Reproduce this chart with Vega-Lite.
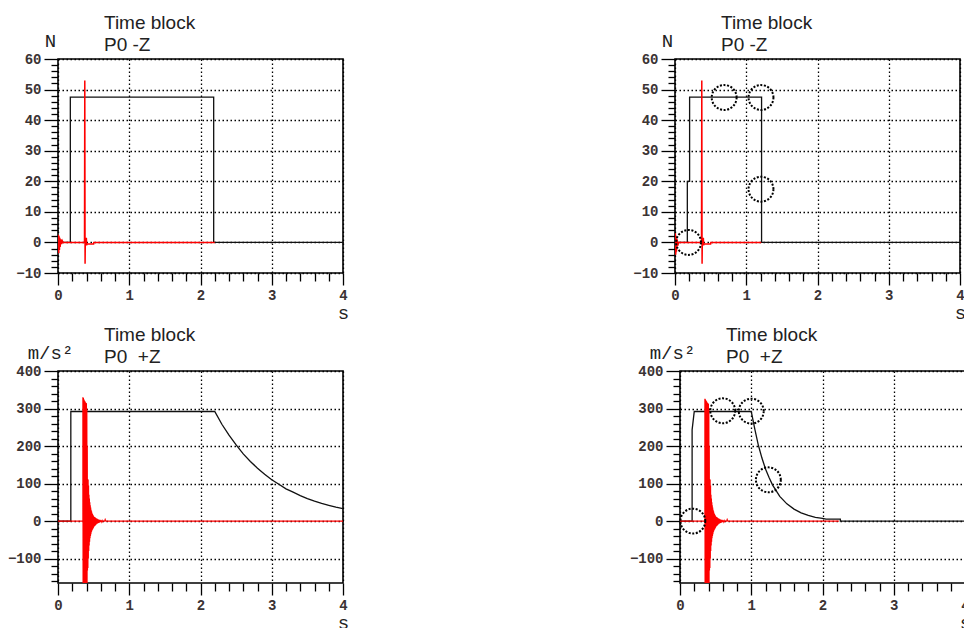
{
  "$schema": "https://vega.github.io/schema/vega-lite/v6.json",
  "background": "white",
  "padding": {"left": 6, "top": 13, "right": 0, "bottom": 0},
  "datasets": {
    "tl_k": [{"t":0,"v":0},{"t":0.173,"v":0},{"t":0.173,"v":47.5},{"t":2.185,"v":47.5},{"t":2.185,"v":0},{"t":4,"v":0}],
    "tl_r": [{"t":0,"v":0},{"t":0.005,"v":2.5},{"t":0.01,"v":-3.5},{"t":0.015,"v":2},{"t":0.02,"v":-2.5},{"t":0.025,"v":1.5},{"t":0.03,"v":-1.5},{"t":0.04,"v":1},{"t":0.05,"v":-0.5},{"t":0.06,"v":0.5},{"t":0.07,"v":0},{"t":0.372,"v":0},{"t":0.376,"v":53},{"t":0.38,"v":-7},{"t":0.384,"v":1.5},{"t":0.388,"v":-1},{"t":0.392,"v":0},{"t":0.398,"v":1.5},{"t":0.402,"v":-1},{"t":0.406,"v":-0.5},{"t":0.5,"v":-0.5},{"t":0.503,"v":0},{"t":2.2,"v":0}],
    "tr_k": [{"t":0,"v":0},{"t":0.173,"v":0},{"t":0.173,"v":20},{"t":0.205,"v":20},{"t":0.205,"v":47.5},{"t":1.215,"v":47.5},{"t":1.215,"v":0},{"t":4,"v":0}],
    "tr_r": [{"t":0,"v":0},{"t":0.005,"v":3},{"t":0.01,"v":-4},{"t":0.015,"v":2},{"t":0.02,"v":-3},{"t":0.03,"v":1},{"t":0.04,"v":-1},{"t":0.05,"v":0},{"t":0.372,"v":0},{"t":0.376,"v":53},{"t":0.38,"v":-7},{"t":0.384,"v":1.5},{"t":0.388,"v":-1},{"t":0.392,"v":0},{"t":0.398,"v":1.5},{"t":0.402,"v":-1},{"t":0.406,"v":-0.5},{"t":0.5,"v":-0.5},{"t":0.503,"v":0},{"t":1.21,"v":0}],
    "tr_c": [{"t":0.19,"v":0},{"t":0.69,"v":47.4},{"t":1.207,"v":47.4},{"t":1.207,"v":17.4}],
    "bl_k": [{"t":0,"v":0},{"t":0.18,"v":0},{"t":0.18,"v":292},{"t":2.2,"v":292},{"t":2.3,"v":258},{"t":2.4,"v":229},{"t":2.5,"v":203},{"t":2.6,"v":179},{"t":2.7,"v":159},{"t":2.8,"v":141},{"t":2.9,"v":125},{"t":3.0,"v":110},{"t":3.1,"v":98},{"t":3.2,"v":86},{"t":3.3,"v":77},{"t":3.4,"v":68},{"t":3.5,"v":60},{"t":3.6,"v":53},{"t":3.7,"v":47},{"t":3.8,"v":42},{"t":3.9,"v":37},{"t":4.0,"v":33}],
    "bl_r": [{"t":0,"v":0},{"t":0.35,"v":0},{"t":0.350,"v":330},{"t":0.353,"v":-200},{"t":0.356,"v":328},{"t":0.359,"v":-200},{"t":0.362,"v":325},{"t":0.365,"v":-200},{"t":0.368,"v":322},{"t":0.371,"v":-200},{"t":0.374,"v":320},{"t":0.377,"v":-200},{"t":0.380,"v":318},{"t":0.383,"v":-200},{"t":0.386,"v":316},{"t":0.389,"v":-200},{"t":0.392,"v":315},{"t":0.395,"v":-200},{"t":0.398,"v":314},{"t":0.401,"v":-200},{"t":0.404,"v":300},{"t":0.407,"v":-190},{"t":0.410,"v":200},{"t":0.413,"v":-132},{"t":0.416,"v":112},{"t":0.419,"v":-125},{"t":0.422,"v":110},{"t":0.425,"v":-100},{"t":0.428,"v":95},{"t":0.431,"v":-80},{"t":0.434,"v":70},{"t":0.437,"v":-65},{"t":0.440,"v":60},{"t":0.443,"v":-55},{"t":0.446,"v":50},{"t":0.449,"v":-46},{"t":0.452,"v":42},{"t":0.455,"v":-40},{"t":0.458,"v":36},{"t":0.461,"v":-35},{"t":0.464,"v":30},{"t":0.467,"v":-30},{"t":0.470,"v":26},{"t":0.473,"v":-27},{"t":0.476,"v":22},{"t":0.479,"v":-24},{"t":0.482,"v":19},{"t":0.485,"v":-22},{"t":0.488,"v":17},{"t":0.491,"v":-20},{"t":0.494,"v":15},{"t":0.497,"v":-18},{"t":0.500,"v":13},{"t":0.505,"v":-15},{"t":0.510,"v":11},{"t":0.515,"v":-13},{"t":0.520,"v":10},{"t":0.525,"v":-11},{"t":0.530,"v":8},{"t":0.535,"v":-9},{"t":0.540,"v":7},{"t":0.545,"v":-7},{"t":0.550,"v":6},{"t":0.555,"v":-6},{"t":0.560,"v":5},{"t":0.565,"v":-5},{"t":0.570,"v":4},{"t":0.575,"v":-4},{"t":0.580,"v":3},{"t":0.585,"v":-3},{"t":0.590,"v":3},{"t":0.595,"v":-2.5},{"t":0.600,"v":2},{"t":0.605,"v":-2},{"t":0.610,"v":2},{"t":0.615,"v":-1.5},{"t":0.620,"v":1},{"t":0.625,"v":-1},{"t":0.630,"v":0},{"t":0.655,"v":0},{"t":0.662,"v":4},{"t":0.668,"v":1},{"t":0.675,"v":0},{"t":4,"v":0}],
    "br_k": [{"t":0,"v":0},{"t":0.17,"v":0},{"t":0.17,"v":243},{"t":0.2,"v":292},{"t":1.0,"v":292},{"t":1.05,"v":245},{"t":1.1,"v":202},{"t":1.15,"v":168},{"t":1.2,"v":139},{"t":1.25,"v":116},{"t":1.3,"v":96},{"t":1.4,"v":66},{"t":1.5,"v":46},{"t":1.6,"v":32},{"t":1.7,"v":22},{"t":1.8,"v":15},{"t":1.9,"v":10},{"t":2.0,"v":7},{"t":2.05,"v":5},{"t":2.25,"v":5},{"t":2.25,"v":0},{"t":4,"v":0}],
    "br_r": [{"t":0,"v":0},{"t":0.35,"v":0},{"t":0.350,"v":326},{"t":0.353,"v":-200},{"t":0.356,"v":324},{"t":0.359,"v":-200},{"t":0.362,"v":322},{"t":0.365,"v":-200},{"t":0.368,"v":320},{"t":0.371,"v":-200},{"t":0.374,"v":318},{"t":0.377,"v":-200},{"t":0.380,"v":316},{"t":0.383,"v":-200},{"t":0.386,"v":315},{"t":0.389,"v":-200},{"t":0.392,"v":314},{"t":0.395,"v":-200},{"t":0.398,"v":312},{"t":0.401,"v":-200},{"t":0.404,"v":300},{"t":0.407,"v":-190},{"t":0.410,"v":200},{"t":0.413,"v":-132},{"t":0.416,"v":112},{"t":0.419,"v":-125},{"t":0.422,"v":110},{"t":0.425,"v":-100},{"t":0.428,"v":95},{"t":0.431,"v":-80},{"t":0.434,"v":70},{"t":0.437,"v":-65},{"t":0.440,"v":60},{"t":0.443,"v":-55},{"t":0.446,"v":50},{"t":0.449,"v":-46},{"t":0.452,"v":42},{"t":0.455,"v":-40},{"t":0.458,"v":36},{"t":0.461,"v":-35},{"t":0.464,"v":30},{"t":0.467,"v":-30},{"t":0.470,"v":26},{"t":0.473,"v":-27},{"t":0.476,"v":22},{"t":0.479,"v":-24},{"t":0.482,"v":19},{"t":0.485,"v":-22},{"t":0.488,"v":17},{"t":0.491,"v":-20},{"t":0.494,"v":15},{"t":0.497,"v":-18},{"t":0.500,"v":13},{"t":0.505,"v":-15},{"t":0.510,"v":11},{"t":0.515,"v":-13},{"t":0.520,"v":10},{"t":0.525,"v":-11},{"t":0.530,"v":8},{"t":0.535,"v":-9},{"t":0.540,"v":7},{"t":0.545,"v":-7},{"t":0.550,"v":6},{"t":0.555,"v":-6},{"t":0.560,"v":5},{"t":0.565,"v":-5},{"t":0.570,"v":4},{"t":0.575,"v":-4},{"t":0.580,"v":3},{"t":0.585,"v":-3},{"t":0.590,"v":3},{"t":0.595,"v":-2.5},{"t":0.600,"v":2},{"t":0.605,"v":-2},{"t":0.610,"v":2},{"t":0.615,"v":-1.5},{"t":0.620,"v":1},{"t":0.625,"v":-1},{"t":0.630,"v":0},{"t":0.655,"v":0},{"t":0.662,"v":4},{"t":0.668,"v":1},{"t":0.675,"v":0},{"t":2.23,"v":0}],
    "br_c": [{"t":0.18,"v":0},{"t":0.6,"v":294},{"t":1.0,"v":293},{"t":1.24,"v":110}]
  },
  "config": {
    "view": {"stroke": "#000", "strokeWidth": 1.6},
    "axis": {
      "domain": false, "grid": true, "gridColor": "#000", "gridDash": [1.5, 2.5], "gridWidth": 1.3,
      "tickColor": "#000", "tickWidth": 1.3,
      "labelFont": "Liberation Mono", "labelFontWeight": "bold", "labelFontSize": 14, "labelColor": "#3b3333",
      "labelFlush": false, "labelOverlap": false,
      "titleFont": "Liberation Mono", "titleFontWeight": "normal", "titleFontSize": 19, "titleColor": "#222"
    },
    "title": {"font": "Liberation Sans", "fontSize": 19, "fontWeight": "normal", "color": "#222", "anchor": "start", "frame": "group", "dx": 46, "lineHeight": 22, "offset": -24}
  },
  "spacing": 2,
  "vconcat": [
    {
      "spacing": 281,
      "hconcat": [
        {
          "width": 285, "height": 214,
          "title": {"text": ["Time block", "P0 -Z"]},
          "encoding": {
            "x": {"field": "t", "type": "quantitative", "scale": {"domain": [0, 4], "nice": false, "zero": false},
              "axis": {"values": [0,0.2,0.4,0.6,0.8,1,1.2,1.4,1.6,1.8,2,2.2,2.4,2.6,2.8,3,3.2,3.4,3.6,3.8,4],
                "labelExpr": "abs(datum.value-round(datum.value))<0.01 ? format(datum.value,'d') : ''",
                "tickSize": {"condition": {"test": "abs(datum.value-round(datum.value))<0.01", "value": 12}, "value": 8},
                "gridOpacity": {"condition": {"test": "abs(datum.value-round(datum.value))<0.01", "value": 1}, "value": 0},
                "labelPadding": 3, "title": "s", "titleX": 285, "titleY": 45, "titleAlign": "center", "titleBaseline": "alphabetic"}},
            "y": {"field": "v", "type": "quantitative", "scale": {"domain": [-10, 60], "nice": false, "zero": false},
              "axis": {"values": [-10,-8,-6,-4,-2,0,2,4,6,8,10,12,14,16,18,20,22,24,26,28,30,32,34,36,38,40,42,44,46,48,50,52,54,56,58,60],
                "labelExpr": "datum.value % 10 === 0 ? format(datum.value,'d') : ''",
                "tickSize": {"condition": {"test": "datum.value % 10 === 0", "value": 14}, "value": 7},
                "gridOpacity": {"condition": {"test": "datum.value % 10 === 0", "value": 1}, "value": 0},
                "labelPadding": 3, "title": "N", "titleAngle": 0, "titleX": -8, "titleY": -13, "titleAlign": "center", "titleBaseline": "alphabetic"}}
          },
          "layer": [
            {"data": {"name": "tl_k"}, "mark": {"type": "line", "color": "#111", "strokeWidth": 1.3, "clip": true}, "encoding": {"order": {"value": null}}},
            {"data": {"name": "tl_r"}, "mark": {"type": "line", "color": "#ff0000", "strokeWidth": 1.5, "clip": true}, "encoding": {"order": {"value": null}}}
          ]
        },
        {
          "width": 285, "height": 214,
          "title": {"text": ["Time block", "P0 -Z"]},
          "encoding": {
            "x": {"field": "t", "type": "quantitative", "scale": {"domain": [0, 4], "nice": false, "zero": false},
              "axis": {"values": [0,0.2,0.4,0.6,0.8,1,1.2,1.4,1.6,1.8,2,2.2,2.4,2.6,2.8,3,3.2,3.4,3.6,3.8,4],
                "labelExpr": "abs(datum.value-round(datum.value))<0.01 ? format(datum.value,'d') : ''",
                "tickSize": {"condition": {"test": "abs(datum.value-round(datum.value))<0.01", "value": 12}, "value": 8},
                "gridOpacity": {"condition": {"test": "abs(datum.value-round(datum.value))<0.01", "value": 1}, "value": 0},
                "labelPadding": 3, "title": "s", "titleX": 285, "titleY": 45, "titleAlign": "center", "titleBaseline": "alphabetic"}},
            "y": {"field": "v", "type": "quantitative", "scale": {"domain": [-10, 60], "nice": false, "zero": false},
              "axis": {"values": [-10,-8,-6,-4,-2,0,2,4,6,8,10,12,14,16,18,20,22,24,26,28,30,32,34,36,38,40,42,44,46,48,50,52,54,56,58,60],
                "labelExpr": "datum.value % 10 === 0 ? format(datum.value,'d') : ''",
                "tickSize": {"condition": {"test": "datum.value % 10 === 0", "value": 14}, "value": 7},
                "gridOpacity": {"condition": {"test": "datum.value % 10 === 0", "value": 1}, "value": 0},
                "labelPadding": 3, "title": "N", "titleAngle": 0, "titleX": -8, "titleY": -13, "titleAlign": "center", "titleBaseline": "alphabetic"}}
          },
          "layer": [
            {"data": {"name": "tr_k"}, "mark": {"type": "line", "color": "#111", "strokeWidth": 1.3, "clip": true}, "encoding": {"order": {"value": null}}},
            {"data": {"name": "tr_r"}, "mark": {"type": "line", "color": "#ff0000", "strokeWidth": 1.5, "clip": true}, "encoding": {"order": {"value": null}}},
            {"data": {"name": "tr_c"}, "mark": {"type": "point", "shape": "circle", "size": 620, "filled": false, "stroke": "#000", "strokeWidth": 2, "strokeDash": [2, 1.6], "opacity": 1}}
          ]
        }
      ]
    },
    {
      "spacing": 278,
      "hconcat": [
        {
          "width": 285, "height": 212,
          "title": {"text": ["Time block", "P0\u00a0\u00a0+Z"]},
          "encoding": {
            "x": {"field": "t", "type": "quantitative", "scale": {"domain": [0, 4], "nice": false, "zero": false},
              "axis": {"values": [0,0.2,0.4,0.6,0.8,1,1.2,1.4,1.6,1.8,2,2.2,2.4,2.6,2.8,3,3.2,3.4,3.6,3.8,4],
                "labelExpr": "abs(datum.value-round(datum.value))<0.01 ? format(datum.value,'d') : ''",
                "tickSize": {"condition": {"test": "abs(datum.value-round(datum.value))<0.01", "value": 12}, "value": 8},
                "gridOpacity": {"condition": {"test": "abs(datum.value-round(datum.value))<0.01", "value": 1}, "value": 0},
                "labelPadding": 3, "title": "s", "titleX": 285, "titleY": 45, "titleAlign": "center", "titleBaseline": "alphabetic"}},
            "y": {"field": "v", "type": "quantitative", "scale": {"domain": [-165, 400], "nice": false, "zero": false},
              "axis": {"values": [-160,-140,-120,-100,-80,-60,-40,-20,0,20,40,60,80,100,120,140,160,180,200,220,240,260,280,300,320,340,360,380,400],
                "labelExpr": "datum.value % 100 === 0 ? format(datum.value,'d') : ''",
                "tickSize": {"condition": {"test": "datum.value % 100 === 0", "value": 14}, "value": 7},
                "gridOpacity": {"condition": {"test": "datum.value % 100 === 0", "value": 1}, "value": 0},
                "labelPadding": 3, "title": "m/s²", "titleAngle": 0, "titleX": -8, "titleY": -13, "titleAlign": "center", "titleBaseline": "alphabetic"}}
          },
          "layer": [
            {"data": {"name": "bl_k"}, "mark": {"type": "line", "color": "#111", "strokeWidth": 1.3, "clip": true}, "encoding": {"order": {"value": null}}},
            {"data": {"name": "bl_r"}, "mark": {"type": "line", "color": "#ff0000", "strokeWidth": 1.3, "clip": true}, "encoding": {"order": {"value": null}}}
          ]
        },
        {
          "width": 285, "height": 212,
          "title": {"text": ["Time block", "P0\u00a0\u00a0+Z"]},
          "encoding": {
            "x": {"field": "t", "type": "quantitative", "scale": {"domain": [0, 4], "nice": false, "zero": false},
              "axis": {"values": [0,0.2,0.4,0.6,0.8,1,1.2,1.4,1.6,1.8,2,2.2,2.4,2.6,2.8,3,3.2,3.4,3.6,3.8,4],
                "labelExpr": "abs(datum.value-round(datum.value))<0.01 ? format(datum.value,'d') : ''",
                "tickSize": {"condition": {"test": "abs(datum.value-round(datum.value))<0.01", "value": 12}, "value": 8},
                "gridOpacity": {"condition": {"test": "abs(datum.value-round(datum.value))<0.01", "value": 1}, "value": 0},
                "labelPadding": 3, "title": "s", "titleX": 285, "titleY": 45, "titleAlign": "center", "titleBaseline": "alphabetic"}},
            "y": {"field": "v", "type": "quantitative", "scale": {"domain": [-165, 400], "nice": false, "zero": false},
              "axis": {"values": [-160,-140,-120,-100,-80,-60,-40,-20,0,20,40,60,80,100,120,140,160,180,200,220,240,260,280,300,320,340,360,380,400],
                "labelExpr": "datum.value % 100 === 0 ? format(datum.value,'d') : ''",
                "tickSize": {"condition": {"test": "datum.value % 100 === 0", "value": 14}, "value": 7},
                "gridOpacity": {"condition": {"test": "datum.value % 100 === 0", "value": 1}, "value": 0},
                "labelPadding": 3, "title": "m/s²", "titleAngle": 0, "titleX": -8, "titleY": -13, "titleAlign": "center", "titleBaseline": "alphabetic"}}
          },
          "layer": [
            {"data": {"name": "br_k"}, "mark": {"type": "line", "color": "#111", "strokeWidth": 1.3, "clip": true}, "encoding": {"order": {"value": null}}},
            {"data": {"name": "br_r"}, "mark": {"type": "line", "color": "#ff0000", "strokeWidth": 1.3, "clip": true}, "encoding": {"order": {"value": null}}},
            {"data": {"name": "br_c"}, "mark": {"type": "point", "shape": "circle", "size": 620, "filled": false, "stroke": "#000", "strokeWidth": 2, "strokeDash": [2, 1.6], "opacity": 1}}
          ]
        }
      ]
    }
  ]
}
